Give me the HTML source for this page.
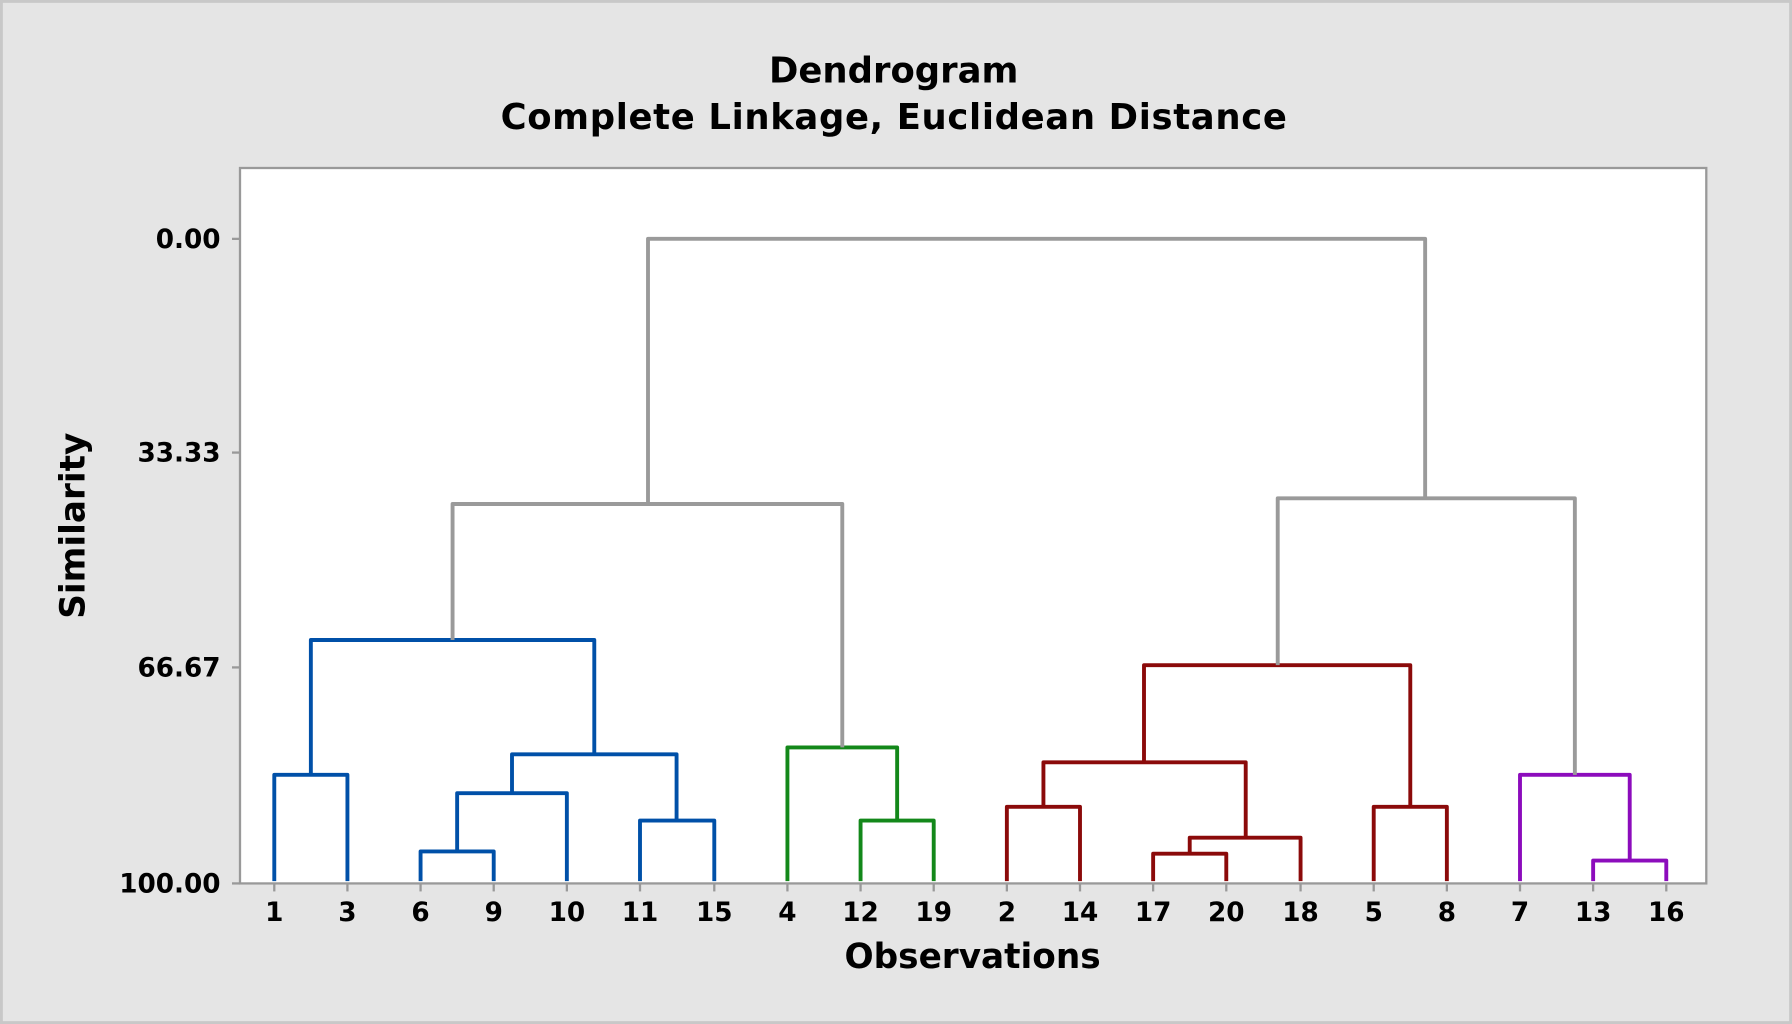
<!DOCTYPE html>
<html><head><meta charset="utf-8"><style>
html,body{margin:0;padding:0;background:#e5e5e5;}
svg{display:block}
text{font-family:"DejaVu Sans","Liberation Sans",sans-serif;fill:#000;}
</style></head><body>
<svg width="1792" height="1024" viewBox="0 0 1568 896" xmlns="http://www.w3.org/2000/svg">
<rect x="0" y="0" width="1568" height="896" fill="#e5e5e5"/>
<rect x="1" y="1" width="1566" height="894" fill="none" stroke="#c8c8c8" stroke-width="3"/>
<text x="782" y="72" font-size="31" font-weight="bold" text-anchor="middle">Dendrogram</text>
<text x="782" y="113" font-size="31" font-weight="bold" text-anchor="middle" textLength="688">Complete Linkage, Euclidean Distance</text>
<rect x="210" y="147" width="1283" height="626" fill="#fff" stroke="#999" stroke-width="2"/>
<g stroke="#999" stroke-width="2">
<line x1="203" y1="209" x2="210" y2="209"/><line x1="203" y1="396" x2="210" y2="396"/><line x1="203" y1="584" x2="210" y2="584"/><line x1="203" y1="773" x2="210" y2="773"/>
</g>
<g font-size="23" font-weight="bold" text-anchor="end">
<text x="193" y="217">0.00</text><text x="193" y="404">33.33</text><text x="193" y="592">66.67</text><text x="193" y="781">100.00</text>
</g>
<text transform="translate(74,460) rotate(-90)" font-size="30" font-weight="bold" text-anchor="middle">Similarity</text>
<text x="851" y="847" font-size="30" font-weight="bold" text-anchor="middle">Observations</text>
<g stroke="#999" stroke-width="2">
<line x1="240" y1="773" x2="240" y2="780"/><line x1="304" y1="773" x2="304" y2="780"/><line x1="368" y1="773" x2="368" y2="780"/><line x1="432" y1="773" x2="432" y2="780"/><line x1="496" y1="773" x2="496" y2="780"/><line x1="560" y1="773" x2="560" y2="780"/><line x1="625" y1="773" x2="625" y2="780"/><line x1="689" y1="773" x2="689" y2="780"/><line x1="753" y1="773" x2="753" y2="780"/><line x1="817" y1="773" x2="817" y2="780"/><line x1="881" y1="773" x2="881" y2="780"/><line x1="945" y1="773" x2="945" y2="780"/><line x1="1009" y1="773" x2="1009" y2="780"/><line x1="1073" y1="773" x2="1073" y2="780"/><line x1="1138" y1="773" x2="1138" y2="780"/><line x1="1202" y1="773" x2="1202" y2="780"/><line x1="1266" y1="773" x2="1266" y2="780"/><line x1="1330" y1="773" x2="1330" y2="780"/><line x1="1394" y1="773" x2="1394" y2="780"/><line x1="1458" y1="773" x2="1458" y2="780"/>
</g>
<g font-size="23" font-weight="bold" text-anchor="middle">
<text x="240" y="806">1</text><text x="304" y="806">3</text><text x="368" y="806">6</text><text x="432" y="806">9</text><text x="496" y="806">10</text><text x="560" y="806">11</text><text x="625" y="806">15</text><text x="689" y="806">4</text><text x="753" y="806">12</text><text x="817" y="806">19</text><text x="881" y="806">2</text><text x="945" y="806">14</text><text x="1009" y="806">17</text><text x="1073" y="806">20</text><text x="1138" y="806">18</text><text x="1202" y="806">5</text><text x="1266" y="806">8</text><text x="1330" y="806">7</text><text x="1394" y="806">13</text><text x="1458" y="806">16</text>
</g>
<g fill="none" stroke-width="3.4" stroke-linejoin="round">
<g stroke="#0050a8">
<path d="M240 771V678H304V771"/>
<path d="M368 771V745H432V771"/>
<path d="M400 745V694H496V771"/>
<path d="M560 771V718H625V771"/>
<path d="M448 694V660H592V718"/>
<path d="M272 678V560H520V660"/>
</g>
<g stroke="#13881a">
<path d="M753 771V718H817V771"/>
<path d="M689 771V654H785V718"/>
</g>
<g stroke="#8b0a0a">
<path d="M881 771V706H945V771"/>
<path d="M1009 771V747H1073V771"/>
<path d="M1041 747V733H1138V771"/>
<path d="M913 706V667H1090V733"/>
<path d="M1202 771V706H1266V771"/>
<path d="M1001 667V582H1234V706"/>
</g>
<g stroke="#8c0cbc">
<path d="M1394 771V753H1458V771"/>
<path d="M1330 771V678H1426V753"/>
</g>
<g stroke="#9a9a9a">
<path d="M396 560V441H737V654"/>
<path d="M1118 582V436H1378V678"/>
<path d="M567 441V209H1247V436"/>
</g>
</g>
</svg>
</body></html>
